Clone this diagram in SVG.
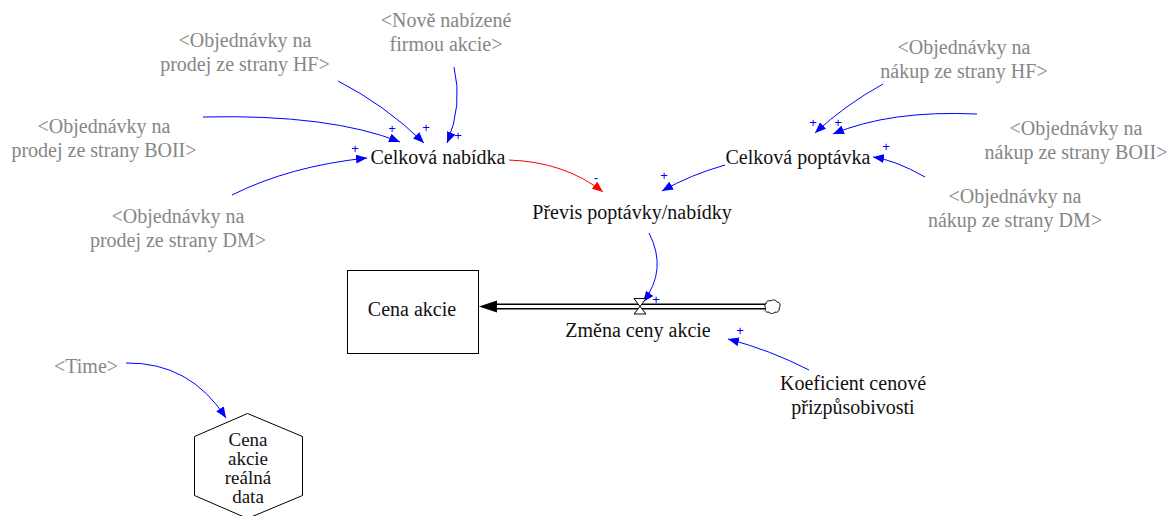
<svg xmlns="http://www.w3.org/2000/svg" width="1170" height="516" viewBox="0 0 1170 516">
  <defs>
    <style>
      text { font-family: 'Liberation Serif', 'DejaVu Serif', 'Times New Roman', serif; }
      .lbl { font-size: 20px; fill: #111; text-anchor: middle; }
      .hex { font-size: 19px; fill: #111; text-anchor: middle; }
      .shadow { fill: #868686; }
      .pol { font-family: 'Liberation Sans', Arial, sans-serif; font-size: 13px; fill: #0000ff; text-anchor: middle; }
      .link { fill: none; stroke: #0000ff; stroke-width: 1; marker-end: url(#ahBlue); }
      .neg { fill: none; stroke: #ff0000; stroke-width: 1; marker-end: url(#ahRed); }
    </style>
    <marker id="ahBlue" markerUnits="userSpaceOnUse" markerWidth="12" markerHeight="9" refX="11" refY="4.5" orient="auto">
      <path d="M0,0 L11,4.5 L0,9 z" fill="#0000ff"/>
    </marker>
    <marker id="ahRed" markerUnits="userSpaceOnUse" markerWidth="12" markerHeight="9" refX="11" refY="4.5" orient="auto">
      <path d="M0,0 L11,4.5 L0,9 z" fill="#ff0000"/>
    </marker>
  </defs>

  <rect width="1170" height="516" fill="#ffffff"/>

  <!-- causal links -->
  <g id="connectors">
    <path class="link" d="M338,81 Q385,105 424,143"/>
    <path class="link" d="M454,67 Q463,105 447,143"/>
    <path class="link" d="M203,117 Q330,114 400,142"/>
    <path class="link" d="M232,195 Q290,166 367,158"/>
    <path class="neg" d="M509,160 Q565,162 603,192"/>
    <path class="link" d="M725,165 Q690,175 662,191"/>
    <path class="link" d="M883,84 Q845,105 815,133"/>
    <path class="link" d="M977,114 Q890,110 833,134"/>
    <path class="link" d="M925,177 Q895,160 873,157"/>
    <path class="link" d="M649,233 Q668,270 643,302"/>
    <path class="link" d="M809,370 Q770,350 728,339"/>
    <path class="link" d="M126,363 Q190,362 226,418"/>

    <!-- link polarities -->
    <text class="pol" x="392" y="133">+</text>
    <text class="pol" x="426" y="132">+</text>
    <text class="pol" x="458" y="140">+</text>
    <text class="pol" x="355" y="153">+</text>
    <text class="pol" x="596" y="182">-</text>
    <text class="pol" x="664" y="180">+</text>
    <text class="pol" x="813" y="127">+</text>
    <text class="pol" x="838" y="127">+</text>
    <text class="pol" x="886" y="151">+</text>
    <text class="pol" x="656" y="304">+</text>
    <text class="pol" x="740" y="335">+</text>
  </g>

  <!-- flow pipe into the stock -->
  <g id="flow-pipe">
    <path d="M494,306.5 H767" stroke="#000" stroke-width="6" fill="none"/>
    <path d="M494,306.5 H767" stroke="#fff" stroke-width="3" fill="none"/>
    <path d="M479,306.5 L497,300.5 L497,312.5 z" fill="#000"/>
    <path d="M766,304 c0,-3 3,-4 5,-3 c2,-2 5,-1 6,1 c3,0 4,4 2,6 c1,3 -2,5 -4,4 c-2,2 -5,2 -6,0 c-3,1 -5,-2 -3,-4 c-2,-1 -1,-4 0,-4 z" fill="#fff" stroke="#000" stroke-width="1"/>
  </g>

  <g id="valve">
    <path d="M634,298.5 H646 L640,306.5 L646,314 H634 L640,306.5 z" fill="#fff" stroke="#000" stroke-width="1"/>
    <text class="lbl" x="638" y="337">Změna ceny akcie</text>
  </g>

  <g id="stock-cena-akcie">
    <rect x="347.5" y="270.5" width="131" height="83" fill="#fff" stroke="#000" stroke-width="1"/>
    <text class="lbl" x="412" y="316">Cena akcie</text>
  </g>

  <g id="celkova-nabidka">
    <text class="lbl" x="438" y="164">Celková nabídka</text>
  </g>
  <g id="celkova-poptavka">
    <text class="lbl" x="798" y="164">Celková poptávka</text>
  </g>
  <g id="previs">
    <text class="lbl" x="632" y="219">Převis poptávky/nabídky</text>
  </g>
  <g id="koeficient">
    <text class="lbl" x="853" y="390">Koeficient cenové</text>
    <text class="lbl" x="853" y="414">přizpůsobivosti</text>
  </g>

  <!-- shadow variables -->
  <g id="nove-nabizene">
    <text class="lbl shadow" x="446" y="27">&lt;Nově nabízené</text>
    <text class="lbl shadow" x="446" y="51">firmou akcie&gt;</text>
  </g>
  <g id="prodej-hf">
    <text class="lbl shadow" x="245" y="47">&lt;Objednávky na</text>
    <text class="lbl shadow" x="245" y="71">prodej ze strany HF&gt;</text>
  </g>
  <g id="prodej-boii">
    <text class="lbl shadow" x="104" y="133">&lt;Objednávky na</text>
    <text class="lbl shadow" x="104" y="157">prodej ze strany BOII&gt;</text>
  </g>
  <g id="prodej-dm">
    <text class="lbl shadow" x="178" y="223">&lt;Objednávky na</text>
    <text class="lbl shadow" x="178" y="247">prodej ze strany DM&gt;</text>
  </g>
  <g id="nakup-hf">
    <text class="lbl shadow" x="964" y="54">&lt;Objednávky na</text>
    <text class="lbl shadow" x="964" y="78">nákup ze strany HF&gt;</text>
  </g>
  <g id="nakup-boii">
    <text class="lbl shadow" x="1076" y="135">&lt;Objednávky na</text>
    <text class="lbl shadow" x="1076" y="159">nákup ze strany BOII&gt;</text>
  </g>
  <g id="nakup-dm">
    <text class="lbl shadow" x="1015" y="203">&lt;Objednávky na</text>
    <text class="lbl shadow" x="1015" y="227">nákup ze strany DM&gt;</text>
  </g>
  <g id="time">
    <text class="lbl shadow" x="86" y="373">&lt;Time&gt;</text>
  </g>

  <g id="cena-akcie-realna-data">
    <polygon points="247.5,413.5 302.5,436.5 302.5,495.5 247.5,518.5 194.5,495.5 194.5,436.5" fill="#fff" stroke="#000" stroke-width="1"/>
    <text class="hex" x="248" y="446">Cena</text>
    <text class="hex" x="248" y="465">akcie</text>
    <text class="hex" x="248" y="484">reálná</text>
    <text class="hex" x="248" y="503">data</text>
  </g>
</svg>
